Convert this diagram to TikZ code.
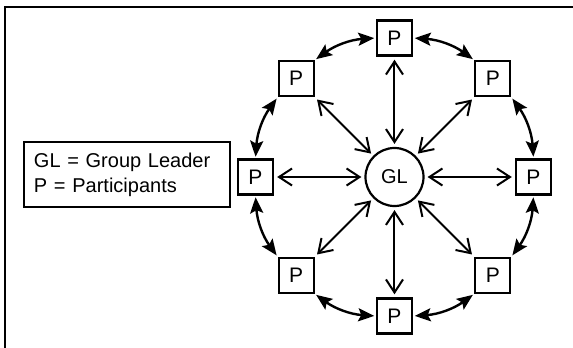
\documentclass[tikz,border=0pt]{standalone}
\usepackage{fontspec}
\setmainfont{Liberation Sans}
\usetikzlibrary{arrows.meta}

\begin{document}
\begin{tikzpicture}[
  pbox/.style={draw, rectangle, line width=2.4pt, minimum size=35pt, inner sep=0pt,
    font=\fontsize{21}{24}\selectfont},
  spoke/.style={{Straight Barb[length=13pt,width=17pt]}-{Straight Barb[length=13pt,width=17pt]},
    line width=2pt, shorten <=3pt, shorten >=3pt},
  link/.style={{Stealth[length=16pt,width=13pt,inset=3pt]}-{Stealth[length=16pt,width=13pt,inset=3pt]},
    line width=2.4pt, shorten <=1.5pt, shorten >=1.5pt}]
  \useasboundingbox (-394.5pt,-171pt) rectangle (178.5pt,177pt);
  % open frame, top and left sides only
  \draw[line width=2.8pt] (-389.5pt,-175pt) -- (-389.5pt,170pt) -- (185pt,170pt);

  \node (gl) [draw, circle, line width=2.2pt, minimum size=58pt, inner sep=0pt,
    font=\fontsize{20}{23}\selectfont] {GL};
  \foreach \i in {0,...,7}
    \node (p\i) [pbox] at ({90-45*\i}:139pt) {P};

  % two-way links to the leader
  \foreach \i in {0,...,7}
    \draw[spoke] (p\i) -- (gl);

  % links between neighbours
  \draw[link] (p0.east) to[bend left=16] (p1.north west);
  \draw[link] (p1.south east) to[bend left=16] (p2.north);
  \draw[link] (p2.south) to[bend left=16] (p3.north east);
  \draw[link] (p3.south west) to[bend left=16] (p4.east);
  \draw[link] (p4.west) to[bend left=16] (p5.south east);
  \draw[link] (p5.north west) to[bend left=16] (p6.south);
  \draw[link] (p6.north) to[bend left=16] (p7.south west);
  \draw[link] (p7.north east) to[bend left=16] (p0.west);

  \node (legend) [draw, line width=2.4pt, align=left, text width=186pt, inner xsep=10pt,
    minimum height=65pt, font=\fontsize{20}{25}\selectfont] at (-267.5pt,2.5pt)
    {GL = Group Leader\\P = Participants};
\end{tikzpicture}
\end{document}
